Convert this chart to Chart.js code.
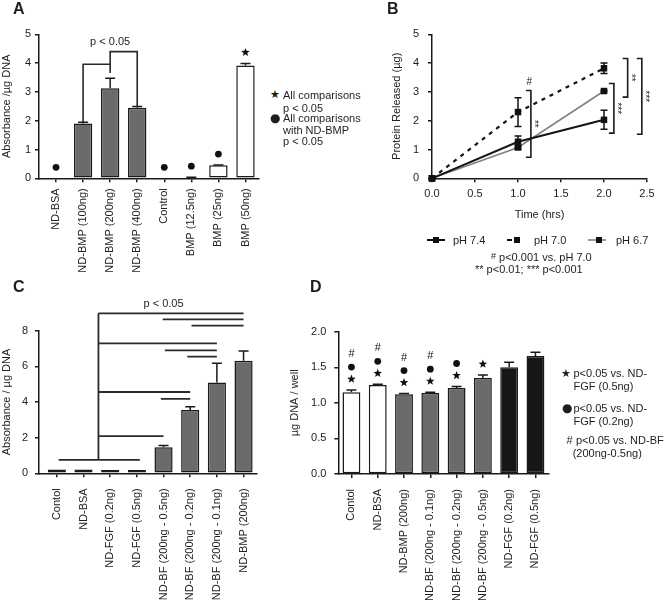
<!DOCTYPE html>
<html><head><meta charset="utf-8"><title>Figure</title>
<script src="https://cdn.jsdelivr.net/npm/chart.js@4.4.1/dist/chart.umd.min.js"></script>
<style>
html,body{margin:0;padding:0;background:#fff;}
#fig{position:relative;width:670px;height:600px;overflow:hidden;font-family:"Liberation Sans",Arial,Helvetica,sans-serif;color:#1e1e1e;}
#fig canvas{position:absolute;}
.t{position:absolute;font-size:11px;line-height:13px;white-space:nowrap;}
.sym{position:absolute;font-family:"DejaVu Sans",sans-serif;line-height:13px;white-space:nowrap;}
.pl{position:absolute;font-size:16px;font-weight:bold;line-height:16px;}
svg{position:absolute;overflow:visible;}
</style></head>
<body><div id="fig">
<canvas id="cA" width="268" height="290" style="left:0;top:0;width:268px;height:290px"></canvas>
<canvas id="cB" width="335" height="300" style="left:335px;top:0;width:335px;height:300px"></canvas>
<canvas id="cC" width="268" height="310" style="left:0;top:290px;width:268px;height:310px"></canvas>
<canvas id="cD" width="280" height="310" style="left:280px;top:290px;width:280px;height:310px"></canvas>

<div class="pl" style="left:13px;top:1px">A</div>
<div class="pl" style="left:387px;top:1px">B</div>
<div class="pl" style="left:13px;top:279px">C</div>
<div class="pl" style="left:310px;top:279px">D</div>

<!-- legend A -->
<div class="sym" style="left:270px;top:88px;font-size:11px">★</div>
<div class="t" style="left:283px;top:88.5px">All comparisons</div>
<div class="t" style="left:283px;top:101.8px">p &lt; 0.05</div>
<div class="sym" style="left:270px;top:111.5px;font-size:12px">●</div>
<div class="t" style="left:283px;top:111.8px">All comparisons</div>
<div class="t" style="left:283px;top:123.5px">with ND-BMP</div>
<div class="t" style="left:283px;top:135.2px">p &lt; 0.05</div>

<!-- legend B -->
<svg style="left:427px;top:236px" width="18" height="8"><line x1="0" y1="4" x2="18" y2="4" stroke="#111" stroke-width="2"/><rect x="6" y="1" width="6" height="6" fill="#111"/></svg>
<div class="t" style="left:453px;top:233.5px">pH 7.4</div>
<svg style="left:507px;top:236px" width="14" height="8"><line x1="0" y1="4" x2="5" y2="4" stroke="#111" stroke-width="2"/><rect x="7" y="1" width="6" height="6" fill="#111"/></svg>
<div class="t" style="left:534px;top:233.5px">pH 7.0</div>
<svg style="left:588px;top:236px" width="18" height="8"><line x1="0" y1="4" x2="18" y2="4" stroke="#808080" stroke-width="1.6"/><rect x="8" y="1" width="6" height="6" fill="#111"/></svg>
<div class="t" style="left:616px;top:233.5px">pH 6.7</div>
<div class="t" style="left:491px;top:250px"><span style="font-size:9px;vertical-align:2px">#</span> p&lt;0.001 vs. pH 7.0</div>
<div class="t" style="left:475px;top:262.5px">** p&lt;0.01; *** p&lt;0.001</div>

<!-- legend D -->
<div class="sym" style="left:561px;top:366.5px;font-size:11px">★</div>
<div class="t" style="left:573.5px;top:366.8px">p&lt;0.05 vs. ND-</div>
<div class="t" style="left:573.5px;top:380.2px">FGF (0.5ng)</div>
<div class="sym" style="left:562px;top:401.5px;font-size:12px">●</div>
<div class="t" style="left:573.5px;top:401.8px">p&lt;0.05 vs. ND-</div>
<div class="t" style="left:573.5px;top:415.2px">FGF (0.2ng)</div>
<div class="t" style="left:566.5px;top:433.5px">#</div>
<div class="t" style="left:576px;top:433.5px">p&lt;0.05 vs. ND-BF</div>
<div class="t" style="left:572.7px;top:446.8px">(200ng-0.5ng)</div>
</div>

<script>
// ---------------- DATA ----------------
// Panel A
const A_categories = ['ND-BSA','ND-BMP (100ng)','ND-BMP (200ng)','ND-BMP (400ng)','Control','BMP (12.5ng)','BMP (25ng)','BMP (50ng)'];
const A_values = [0, 1.90, 3.13, 2.45, 0, 0.03, 0.45, 3.92];
const A_errors = [0, 0.05, 0.34, 0.04, 0, 0.01, 0.01, 0.07];
const A_fill   = ['white','gray','gray','gray','white','white','white','white'];
const A_marks  = [['dot'],[],[],[],['dot'],['dot'],['dot'],['star']];
const A_yTicks = [0, 1, 2, 3, 4, 5];
// brackets: [left category, right category, top level, left foot level, right foot level]
const A_brackets = [[1, 2, 3.96, 1.95, 3.66], [2, 3, 4.40, 3.96, 2.49]];
const A_sigText = {text:'p < 0.05', cat:2, level:4.74};

// Panel B
const B_time = [0, 1, 2];
const B_ph74 = [0, 1.27, 2.03], B_ph74_err = [0, 0.20, 0.33];
const B_ph70 = [0, 2.30, 3.82], B_ph70_err = [0, 0.50, 0.18];
const B_ph67 = [0, 1.07, 3.03], B_ph67_err = [0, 0.06, 0.03];
const B_xTicks = [0, 0.5, 1.0, 1.5, 2.0, 2.5];
const B_yTicks = [0, 1, 2, 3, 4, 5];
// brackets: [time position, low, high, label]
const B_brackets = [[1.15, 0.73, 3.05, '**'], [2.115, 1.57, 3.29, '***'], [2.275, 2.82, 4.16, '**'], [2.44, 1.53, 4.16, '***']];
const B_hash = {text:'#', x:1.13, y:3.34};

// Panel C
const C_categories = ['Contol','ND-BSA','ND-FGF (0.2ng)','ND-FGF (0.5ng)','ND-BF (200ng - 0.5ng)','ND-BF (200ng - 0.2ng)','ND-BF (200ng - 0.1ng)','ND-BMP (200ng)'];
const C_values = [0.22, 0.21, 0.19, 0.19, 1.46, 3.55, 5.10, 6.32];
const C_errors = [0, 0, 0, 0, 0.10, 0.19, 1.08, 0.54];
const C_fill   = ['white','white','black','black','gray','gray','gray','gray'];
const C_yTicks = [0, 2, 4, 6, 8];
// significance lines: [from category, to category, level]
const C_stem  = {cat:1.56, low:0.75, high:8.97};
const C_lines = [[0.07, 3.11, 0.75], [1.56, 4, 2.09], [3.9, 5, 4.17], [1.56, 5, 4.56], [4.89, 6, 6.54], [4.05, 6, 6.90], [1.56, 6, 7.29], [5.05, 7, 8.28], [3.97, 7, 8.64], [1.56, 7, 8.97]];
const C_sigText = {text:'p < 0.05', cat:4.0, level:9.5};

// Panel D
const D_categories = ['Contol','ND-BSA','ND-BMP (200ng)','ND-BF (200ng - 0.1ng)','ND-BF (200ng - 0.2ng)','ND-BF (200ng - 0.5ng)','ND-FGF (0.2ng)','ND-FGF (0.5ng)'];
const D_values = [1.15, 1.25, 1.12, 1.14, 1.21, 1.35, 1.50, 1.66];
const D_errors = [0.03, 0.01, 0.01, 0.01, 0.02, 0.04, 0.07, 0.05];
const D_fill   = ['white','white','gray','gray','gray','gray','black','black'];
const D_marks  = [['star','dot','hash'],['star','dot','hash'],['star','dot','hash'],['star','dot','hash'],['star','dot'],['star'],[],[]];
const D_yTicks = [0, 0.5, 1.0, 1.5, 2.0];

// ---------------- STYLE / HELPERS ----------------
Chart.defaults.font.family = '"Liberation Sans", Arial, Helvetica, sans-serif';
Chart.defaults.font.size = 11;
Chart.defaults.color = '#222';
Chart.defaults.animation = false;
const INK = '#1a1a1a';
const FILLS = {white:'#ffffff', gray:'#6b6b6b', black:'#161616'};
const FONT = '"Liberation Sans", Arial, Helvetica, sans-serif';

function drawStar(ctx, x, y, r){
  ctx.beginPath();
  for(let i=0;i<10;i++){
    const a = -Math.PI/2 + i*Math.PI/5, rr = (i%2) ? r*0.42 : r;
    ctx.lineTo(x + rr*Math.cos(a), y + rr*Math.sin(a));
  }
  ctx.closePath(); ctx.fill();
}
function drawMark(ctx, kind, x, y){
  if(kind==='star') drawStar(ctx, x, y, 4.5);
  else if(kind==='dot'){ ctx.beginPath(); ctx.arc(x, y, 3.4, 0, Math.PI*2); ctx.fill(); }
  else if(kind==='hash'){ ctx.font = '11px '+FONT; ctx.textAlign='center'; ctx.textBaseline='middle'; ctx.fillText('#', x, y); }
}

const insetPlugin = { id:'inset', afterLayout(chart, args, o){
  if(!o || !o.px) return; const s = chart.scales.x; s._startPixel += o.px; s._length -= o.px; } };

const errPlugin = { id:'errbars', afterDatasetsDraw(chart, args, o){
  if(!o || !o.err) return;
  const ctx = chart.ctx, y = chart.scales.y, meta = chart.getDatasetMeta(0), data = chart.data.datasets[0].data;
  ctx.save(); ctx.strokeStyle = INK; ctx.lineWidth = 1.5;
  o.err.forEach((e,i)=>{ if(!e) return;
    const px = meta.data[i].x, y0 = y.getPixelForValue(data[i]), y1 = y.getPixelForValue(data[i]+e);
    ctx.beginPath(); ctx.moveTo(px, y0); ctx.lineTo(px, y1); ctx.moveTo(px-o.cap, y1); ctx.lineTo(px+o.cap, y1); ctx.stroke(); });
  ctx.restore(); } };

const marksPlugin = { id:'marks', afterDatasetsDraw(chart, args, o){
  if(!o || !o.marks) return;
  const ctx = chart.ctx, y = chart.scales.y, meta = chart.getDatasetMeta(0), data = chart.data.datasets[0].data;
  ctx.save(); ctx.fillStyle = '#111';
  o.marks.forEach((list,i)=>{
    let py = y.getPixelForValue(data[i] + (o.err[i]||0)) - o.gap; const px = meta.data[i].x;
    list.forEach(k=>{ drawMark(ctx, k, px, py); py -= (k==='star' ? 12 : 13); });
  });
  ctx.restore(); } };

const bracketAPlugin = { id:'bracketA', afterDatasetsDraw(chart){
  const ctx = chart.ctx, x = chart.scales.x, y = chart.scales.y;
  ctx.save(); ctx.strokeStyle = '#2a2a2a'; ctx.lineWidth = 1.6;
  A_brackets.forEach(([c0,c1,top,f0,f1])=>{
    const x0 = x.getPixelForValue(c0), x1 = x.getPixelForValue(c1);
    ctx.beginPath(); ctx.moveTo(x0, y.getPixelForValue(f0)); ctx.lineTo(x0, y.getPixelForValue(top));
    ctx.lineTo(x1, y.getPixelForValue(top)); ctx.lineTo(x1, y.getPixelForValue(f1)); ctx.stroke(); });
  ctx.fillStyle = '#1e1e1e'; ctx.font = '11px '+FONT; ctx.textAlign='center'; ctx.textBaseline='middle';
  ctx.fillText(A_sigText.text, x.getPixelForValue(A_sigText.cat), y.getPixelForValue(A_sigText.level));
  ctx.restore(); } };

const linesCPlugin = { id:'linesC', afterDatasetsDraw(chart){
  const ctx = chart.ctx, x = chart.scales.x, y = chart.scales.y;
  ctx.save(); ctx.strokeStyle = '#2a2a2a'; ctx.lineWidth = 1.8;
  ctx.beginPath();
  ctx.moveTo(x.getPixelForValue(C_stem.cat), y.getPixelForValue(C_stem.low));
  ctx.lineTo(x.getPixelForValue(C_stem.cat), y.getPixelForValue(C_stem.high));
  C_lines.forEach(([c0,c1,lv])=>{ const py = y.getPixelForValue(lv);
    ctx.moveTo(x.getPixelForValue(c0), py); ctx.lineTo(x.getPixelForValue(c1), py); });
  ctx.stroke();
  ctx.fillStyle = '#1e1e1e'; ctx.font = '11px '+FONT; ctx.textAlign='center'; ctx.textBaseline='middle';
  ctx.fillText(C_sigText.text, x.getPixelForValue(C_sigText.cat), y.getPixelForValue(C_sigText.level));
  ctx.restore(); } };

function barChart(id, box, labels, values, fill, yTicks, yTitle, fmt, pluginOpts, extra){
  return new Chart(document.getElementById(id), {
    type:'bar',
    data:{labels, datasets:[{data:values, backgroundColor:fill.map(k=>FILLS[k]), borderColor:INK, borderWidth:1.5,
      borderSkipped:false, barPercentage:0.68, categoryPercentage:1}]},
    options:{
      responsive:false, animation:false, devicePixelRatio:1,
      layout:{padding:{top:box.top, right:box.right, left:box.left, bottom:0}},
      plugins:Object.assign({legend:{display:false}, tooltip:{enabled:false}}, pluginOpts),
      scales:{
        x:{ offset:true,
            grid:{display:true, drawOnChartArea:false, drawTicks:true, tickLength:4, offset:false, color:INK, lineWidth:1.5},
            border:{display:true, color:INK, width:1.5},
            ticks:{minRotation:90, maxRotation:90, autoSkip:false, padding:box.xpad, color:'#222', font:{size:11}},
            afterFit(s){ s.height = box.xh; } },
        y:{ min:yTicks[0], max:yTicks[yTicks.length-1],
            ticks:{stepSize:yTicks[1]-yTicks[0], padding:box.ypad, color:'#222', font:{size:11}, callback:fmt},
            grid:{drawOnChartArea:false, drawTicks:true, tickLength:4, color:INK, lineWidth:1.5},
            border:{display:true, color:INK, width:1.5},
            title:{display:true, text:yTitle, padding:{top:0,bottom:0}, color:'#222', font:{size:11}},
            afterFit(s){ s.width = box.yw; } }
      }
    },
    plugins:[insetPlugin, errPlugin, marksPlugin].concat(extra||[])
  });
}

// ---------------- PANEL A ----------------
barChart('cA', {top:34.3, right:9, left:0, yw:39, xh:111.7, xpad:6, ypad:4},
  A_categories, A_values, A_fill, A_yTicks, 'Absorbance /µg DNA', v=>v,
  {inset:{px:3.5}, errbars:{err:A_errors, cap:5}, marks:{marks:A_marks, err:A_errors, gap:11}}, [bracketAPlugin]);

// ---------------- PANEL C ----------------
barChart('cC', {top:40.7, right:8.5, left:0, yw:39, xh:126.7, xpad:11, ypad:7},
  C_categories, C_values, C_fill, C_yTicks, 'Absorbance / µg DNA', v=>v,
  {inset:{px:4.5}, errbars:{err:C_errors, cap:5}}, [linesCPlugin]);

// ---------------- PANEL D ----------------
barChart('cD', {top:41.7, right:5.5, left:8, yw:50.3, xh:126, xpad:11, ypad:8},
  D_categories, D_values, D_fill, D_yTicks, 'µg DNA / well', v=>Number(v).toFixed(1),
  {inset:{px:0}, errbars:{err:D_errors, cap:5}, marks:{marks:D_marks, err:D_errors, gap:11}});

// ---------------- PANEL B ----------------
const B_series = [
  {label:'pH 7.4', vals:B_ph74, err:B_ph74_err, color:'#151515', width:2, dash:[]},
  {label:'pH 7.0', vals:B_ph70, err:B_ph70_err, color:'#151515', width:2.2, dash:[4,5]},
  {label:'pH 6.7', vals:B_ph67, err:B_ph67_err, color:'#808080', width:1.6, dash:[]}
];
const annBPlugin = { id:'annB', afterDatasetsDraw(chart){
  const ctx = chart.ctx, x = chart.scales.x, y = chart.scales.y;
  ctx.save(); ctx.strokeStyle = '#111'; ctx.lineWidth = 1.5;
  B_series.forEach(s => s.vals.forEach((v,i)=>{ const e = s.err[i]; if(!e) return;
    const px = x.getPixelForValue(B_time[i]), y0 = y.getPixelForValue(v-e), y1 = y.getPixelForValue(v+e);
    ctx.beginPath(); ctx.moveTo(px,y0); ctx.lineTo(px,y1);
    ctx.moveTo(px-3.5,y0); ctx.lineTo(px+3.5,y0); ctx.moveTo(px-3.5,y1); ctx.lineTo(px+3.5,y1); ctx.stroke(); }));
  ctx.strokeStyle = '#1a1a1a'; ctx.lineWidth = 1.6; ctx.fillStyle = '#1e1e1e';
  B_brackets.forEach(([bx,lo,hi,lab])=>{
    const px = x.getPixelForValue(bx), p0 = y.getPixelForValue(lo), p1 = y.getPixelForValue(hi);
    ctx.beginPath(); ctx.moveTo(px-5,p1); ctx.lineTo(px,p1); ctx.lineTo(px,p0); ctx.lineTo(px-5,p0); ctx.stroke();
    ctx.save(); ctx.translate(px+3,(p0+p1)/2); ctx.rotate(Math.PI/2);
    ctx.font = '10px '+FONT; ctx.textAlign='center'; ctx.textBaseline='middle'; ctx.fillText(lab,0,0); ctx.restore(); });
  ctx.font = '10px '+FONT; ctx.textAlign='center'; ctx.textBaseline='middle';
  ctx.fillText(B_hash.text, x.getPixelForValue(B_hash.x), y.getPixelForValue(B_hash.y));
  ctx.restore(); } };

new Chart(document.getElementById('cB'), {
  type:'scatter',
  data:{datasets:B_series.map(s=>({label:s.label, data:B_time.map((t,i)=>({x:t, y:s.vals[i]})), showLine:true,
    borderColor:s.color, borderWidth:s.width, borderDash:s.dash, pointStyle:'rect', pointRadius:4.6,
    pointBackgroundColor:'#111', pointBorderColor:'#111', pointBorderWidth:0, clip:false}))},
  options:{
    responsive:false, animation:false, devicePixelRatio:1,
    layout:{padding:{top:34.3, right:23, left:55, bottom:78}},
    plugins:{legend:{display:false}, tooltip:{enabled:false}},
    scales:{
      x:{ type:'linear', min:B_xTicks[0], max:B_xTicks[B_xTicks.length-1],
          ticks:{stepSize:B_xTicks[1]-B_xTicks[0], padding:5, color:'#222', font:{size:11}, callback:v=>Number(v).toFixed(1)},
          grid:{drawOnChartArea:false, drawTicks:true, tickLength:4, color:INK, lineWidth:1.5},
          border:{display:true, color:INK, width:1.5},
          title:{display:true, text:'Time (hrs)', padding:{top:0,bottom:0}, color:'#222', font:{size:11}},
          afterFit(s){ s.height = 43.7; } },
      y:{ min:B_yTicks[0], max:B_yTicks[B_yTicks.length-1],
          ticks:{stepSize:B_yTicks[1]-B_yTicks[0], padding:9, color:'#222', font:{size:11}},
          grid:{drawOnChartArea:false, drawTicks:true, tickLength:4, color:INK, lineWidth:1.5},
          border:{display:true, color:INK, width:1.5},
          title:{display:true, text:'Protein Released (µg)', padding:{top:0,bottom:0}, color:'#222', font:{size:11}},
          afterFit(s){ s.width = 42; } }
    }
  },
  plugins:[annBPlugin]
});
</script>
</body></html>
